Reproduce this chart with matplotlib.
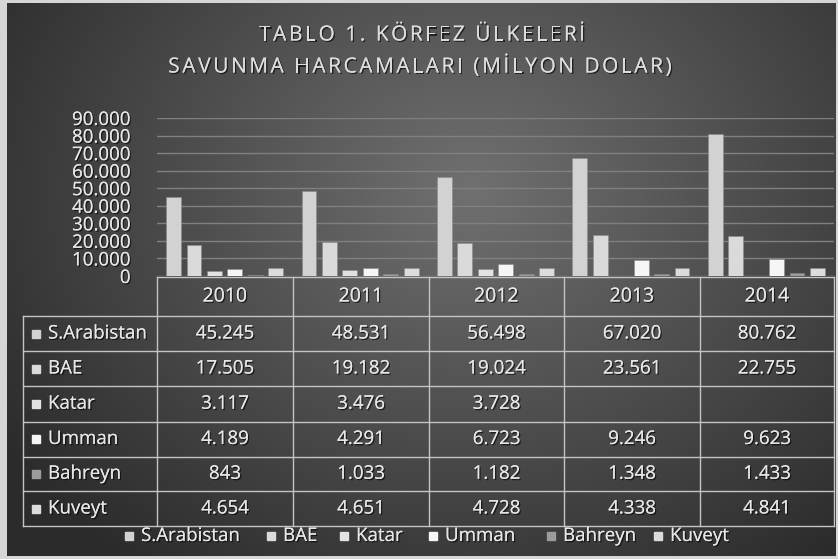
import matplotlib.pyplot as plt
import matplotlib.patheffects as pe
import numpy as np

# veriler
years = ["2010", "2011", "2012", "2013", "2014"]
countries = ["S.Arabistan", "BAE", "Katar", "Umman", "Bahreyn", "Kuveyt"]
s_arabistan = [45245, 48531, 56498, 67020, 80762]
bae = [17505, 19182, 19024, 23561, 22755]
katar = [3117, 3476, 3728, None, None]
umman = [4189, 4291, 6723, 9246, 9623]
bahreyn = [843, 1033, 1182, 1348, 1433]
kuveyt = [4654, 4651, 4728, 4338, 4841]
series = [s_arabistan, bae, katar, umman, bahreyn, kuveyt]
colors = ["#d2d2d2", "#dadada", "#e2e2e2", "#f6f6f6", "#9c9c9c", "#dcdcdc"]
yticks = np.arange(0, 90001, 10000)

title_lines = ["TABLO 1. KÖRFEZ ÜLKELERİ", "SAVUNMA HARCAMALARI (MİLYON DOLAR)"]


def fmt(v):
    if v is None:
        return ""
    return f"{v:,}".replace(",", ".")


plt.rcParams["font.family"] = ["Open Sans", "DejaVu Sans"]
txt_col = "#e6e6e6"
line_col = "#c4c4c4"
shadow = [pe.withSimplePatchShadow(offset=(1, -1), shadow_rgbFace="black", alpha=0.6), pe.Normal()]
fs = 13.5

W, H = 838, 559
fig = plt.figure(figsize=(W / 100, H / 100), dpi=100)
renderer = fig.canvas.get_renderer()

# arka plan (radyal gradyan), piksel koordinatlı eksen
bg = fig.add_axes([0, 0, 1, 1], zorder=0)
yy, xx = np.mgrid[0:H, 0:W]
r = np.sqrt(((xx - 470) / 560) ** 2 + ((yy - 190) / 470) ** 2)
r = np.clip(r, 0, 1)
shade = 0.44 - 0.27 * r
img = np.dstack([shade, shade, shade])
bg.imshow(img, extent=(0, W, H, 0), aspect="auto")
bg.set_xlim(0, W)
bg.set_ylim(H, 0)
bg.axis("off")

# açık renkli çerçeve
frame = "#d6d6d6"
bg.fill_between([0, 7], 0, H, color=frame, lw=0)
bg.fill_between([0, W], 0, 3, color=frame, lw=0)
bg.fill_between([W - 2, W], 0, H, color=frame, lw=0)
bg.fill_between([0, W], H - 3, H, color=frame, lw=0)


# başlık, harf aralıklı
def spaced_text(s, cx, cy, size, spacing):
    t = bg.text(0, 0, "", fontsize=size)
    prop = t.get_fontproperties()
    t.remove()

    def width(sub):
        if not sub:
            return 0.0
        w, _, _ = renderer.get_text_width_height_descent(sub.replace(" ", "\u00a0"), prop, ismath=False)
        return w

    total = width(s) + spacing * (len(s) - 1)
    start = cx - total / 2
    for k, ch in enumerate(s):
        if ch == " ":
            continue
        xk = start + width(s[:k]) + spacing * k
        bg.text(xk, cy, ch, ha="left", va="center", fontsize=size, color="#dcdcdc",
                path_effects=shadow)


spaced_text(title_lines[0], 422, 35, 15, 2.6)
spaced_text(title_lines[1], 420, 67, 15, 2.6)

# çubuk grafik
x0, x1, ytop, y0 = 157, 834, 118, 276
ax = fig.add_axes([x0 / W, 1 - y0 / H, (x1 - x0) / W, (y0 - ytop) / H], zorder=2)
ax.set_facecolor("none")
x = np.arange(len(years))
pitch = 0.151
bw = 0.11
for i, (vals, c) in enumerate(zip(series, colors)):
    v = [np.nan if a is None else a for a in vals]
    ax.bar(x + (i - 2.5) * pitch, v, bw, color=c, edgecolor="#8a8a8a", linewidth=0.4, zorder=3)
ax.set_xlim(-0.5, len(years) - 0.5)
ax.set_ylim(0, 90000)
ax.set_yticks(yticks)
ax.set_yticklabels([fmt(int(t)) for t in yticks], color=txt_col, fontsize=13.5)
ax.tick_params(axis="y", length=0, pad=19)
ax.set_xticks([])
ax.grid(axis="y", color="#808080", lw=1)
ax.set_axisbelow(True)
for s in ax.spines.values():
    s.set_visible(False)
for lbl in ax.get_yticklabels():
    lbl.set_path_effects(shadow)

# veri tablosu
cols = [157, 293, 429, 564, 700, 834]
rows = [277, 316, 351, 386, 421.5, 456.5, 491, 526]
left = 23
bg.plot([cols[0], cols[-1]], [rows[0], rows[0]], color=line_col, lw=1)
for yv in rows[1:]:
    bg.plot([left, cols[-1]], [yv, yv], color=line_col, lw=1)
for xv in cols:
    bg.plot([xv, xv], [rows[0], rows[-1]], color=line_col, lw=1)
bg.plot([left, left], [rows[1], rows[-1]], color=line_col, lw=1)

for j, yr in enumerate(years):
    cx = (cols[j] + cols[j + 1]) / 2
    bg.text(cx, (rows[0] + rows[1]) / 2, yr, ha="center", va="center", fontsize=fs + 0.5,
            color=txt_col, path_effects=shadow)
for i, (name, vals, c) in enumerate(zip(countries, series, colors)):
    cy = (rows[i + 1] + rows[i + 2]) / 2
    bg.add_patch(plt.Rectangle((32, cy - 4), 8, 8, color=c))
    bg.text(48, cy, name, ha="left", va="center", fontsize=fs, color=txt_col, path_effects=shadow)
    for j, v in enumerate(vals):
        cx = (cols[j] + cols[j + 1]) / 2
        bg.text(cx, cy, fmt(v), ha="center", va="center", fontsize=fs, color=txt_col,
                path_effects=shadow)

# lejant
leg_x = [125, 267, 340, 429, 547, 654]
for lx, name, c in zip(leg_x, countries, colors):
    bg.add_patch(plt.Rectangle((lx, 532), 8, 8, color=c))
    bg.text(lx + 16, 536, name, ha="left", va="center", fontsize=fs, color=txt_col,
            path_effects=shadow)

fig.savefig("out.png", dpi=100)
